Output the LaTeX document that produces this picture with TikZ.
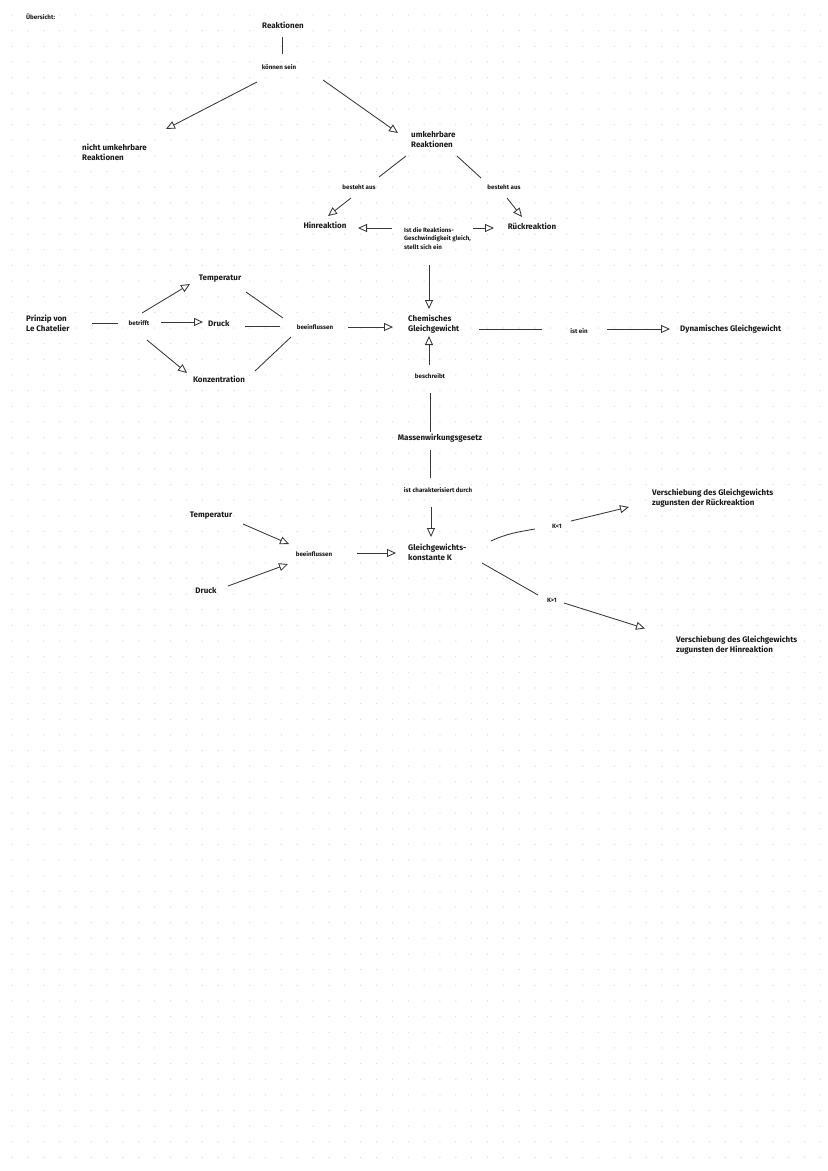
\documentclass[tikz,border=0pt]{standalone}
\usepackage{fontspec}
\setmainfont{Fira Sans}
\usetikzlibrary{arrows.meta,calc}
\begin{document}
\begin{tikzpicture}[x=1pt,y=-1pt,
  lbl/.style={font=\bfseries\fontsize{8}{10}\selectfont, inner sep=0pt, text=black!90},
  sm/.style={font=\bfseries\fontsize{6.2}{8.5}\selectfont, inner sep=0pt, text=black!90},
  ln/.style={draw=black!78, line width=0.85pt},
  arr/.style={ln, -{Triangle[open,length=9pt,width=8pt]}},
]
\fill[white] (0,0) rectangle (828,1171);
\useasboundingbox (0,0) rectangle (828,1171);
\foreach \i in {0,...,51} \foreach \j in {0,...,73} \fill[black!13] (12+\i*15.85, 15+\j*15.65) circle[radius=0.75pt];

% nodes
\node[sm, anchor=west] (ueber) at (26,17) {Übersicht:};
\node[lbl] (reak) at (283,25) {Reaktionen};
\node[sm] (kann) at (279,67) {können sein};
\node[lbl, anchor=west, align=left] (nicht) at (82,152) {nicht umkehrbare\\Reaktionen};
\node[lbl, anchor=west, align=left] (umk) at (411,140) {umkehrbare\\Reaktionen};
\node[sm] (bes1) at (359,187) {besteht aus};
\node[sm] (bes2) at (504,187) {besteht aus};
\node[lbl] (hin) at (325,225) {Hinreaktion};
\node[lbl] (rueck) at (532,226) {Rückreaktion};
\node[sm, anchor=west, align=left] (ist) at (404,238.5) {Ist die Reaktions-\\Geschwindigkeit gleich,\\stellt sich ein};
\node[lbl, anchor=west, align=left] (chem) at (408,324) {Chemisches\\Gleichgewicht};
\node[sm] (istein) at (579,331) {ist ein};
\node[lbl, anchor=west] (dyn) at (680,329) {Dynamisches Gleichgewicht};
\node[sm] (besch) at (430,376) {beschreibt};
\node[lbl] (mwg) at (440,438) {Massenwirkungsgesetz};
\node[sm] (char) at (438,490) {ist charakterisiert durch};
\node[lbl, anchor=west, align=left] (gk) at (408,552) {Gleichgewichts-\\konstante K};
\node[sm] (klt) at (557,526) {K<1};
\node[lbl, anchor=west, align=left] (vr) at (652,498) {Verschiebung des Gleichgewichts\\zugunsten der Rückreaktion};
\node[sm] (kgt) at (552,600) {K>1};
\node[lbl, anchor=west, align=left] (vh) at (676,645.5) {Verschiebung des Gleichgewichts\\zugunsten der Hinreaktion};
\node[lbl, anchor=west, align=left] (prinzip) at (26,323) {Prinzip von\\Le Chatelier};
\node[sm] (betr) at (139,323) {betrifft};
\node[lbl] (temp1) at (220,279) {Temperatur};
\node[lbl, anchor=west] (druck1) at (208,324) {Druck};
\node[lbl] (konz) at (219,379) {Konzentration};
\node[sm] (beein1) at (315,327) {beeinflussen};
\node[lbl] (temp2) at (211,516) {Temperatur};
\node[lbl] (druck2) at (206,591) {Druck};
\node[sm] (beein2) at (314,554) {beeinflussen};

% connectors
\draw[ln] ($(reak)+(-1,12)$) -- ($(kann)+(3,-13)$);
\draw[arr] ($(kann)+(-22,15)$) -- ($(nicht.west)+(84,-23)$);
\draw[arr] ($(kann)+(44,13)$) -- ($(umk.west)+(-13,-7)$);
\draw[ln] ($(umk.west)+(-5,16)$) -- ($(bes1)+(20,-10)$);
\draw[arr] ($(bes1)+(-8,11)$) -- ($(hin)+(3,-9)$);
\draw[ln] ($(umk.west)+(46,16)$) -- ($(bes2)+(-23,-9)$);
\draw[arr] ($(bes2)+(3,11)$) -- ($(rueck)+(-10,-9)$);
\draw[arr] ($(ist.west)+(-12,-10.5)$) -- ($(hin)+(33,3)$);
\draw[arr] ($(ist.west)+(69,-10.5)$) -- ($(rueck)+(-38,2)$);
\draw[arr] ($(ist.west)+(25,26.5)$) -- ($(chem.west)+(21,-15)$);
\draw[arr] ($(besch)+(-1,-11)$) -- ($(chem.west)+(21,12)$);
\draw[ln] ($(mwg)+(-10,-6)$) -- ($(besch)+(0,17)$);
\draw[ln] ($(mwg)+(-10,12)$) -- ($(char)+(-8,-12)$);
\draw[arr] ($(char)+(-7,17)$) -- ($(gk.west)+(23,-15)$);
\draw[ln] ($(chem.west)+(71,5)$) -- ($(istein)+(-37,-2)$);
\draw[arr] ($(istein)+(28,-2)$) -- ($(dyn.west)+(-10,0)$);
\draw[ln] ($(prinzip.west)+(66,0)$) -- ($(betr)+(-21,0)$);
\draw[arr] ($(betr)+(3,-10)$) -- ($(temp1)+(-30,5)$);
\draw[arr] ($(betr)+(22,-1)$) -- ($(druck1.west)+(-5,-2)$);
\draw[arr] ($(betr)+(8,17)$) -- ($(konz)+(-32,-6)$);
\draw[ln] ($(temp1)+(26,13)$) -- ($(beein1)+(-32,-9)$);
\draw[ln] ($(druck1.west)+(37,2)$) -- ($(beein1)+(-35,-1)$);
\draw[ln] ($(konz)+(36,-8)$) -- ($(beein1)+(-24,10)$);
\draw[arr] ($(beein1)+(33,0)$) -- ($(chem.west)+(-15,3)$);
\draw[arr] ($(temp2)+(32,8)$) -- ($(beein2)+(-25,-10)$);
\draw[arr] ($(druck2)+(22,-5)$) -- ($(beein2)+(-26,10)$);
\draw[arr] ($(beein2)+(43,-1)$) -- ($(gk.west)+(-12,1)$);
\draw[ln] ($(gk.west)+(83,-11)$) to[out=25,in=190] ($(klt)+(-22,3)$);
\draw[arr] ($(klt)+(14,-5)$) -- ($(vr.west)+(-23,9)$);
\draw[ln] ($(gk.west)+(74,11)$) -- ($(kgt)+(-14,-5)$);
\draw[arr] ($(kgt)+(12,3)$) -- ($(vh.west)+(-31,-17)$);
\end{tikzpicture}
\end{document}
